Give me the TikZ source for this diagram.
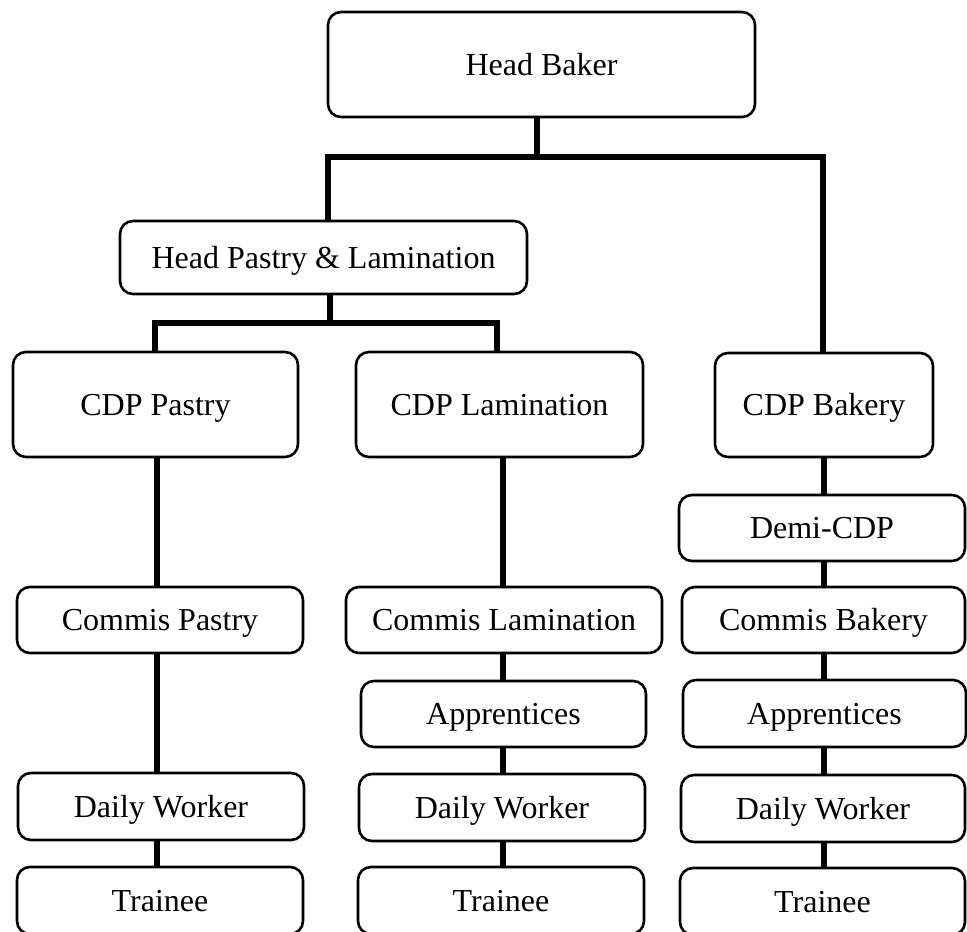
\documentclass[tikz,border=0pt]{standalone}
\usepackage{fontspec}
\setmainfont{Liberation Serif}
\begin{document}
\begin{tikzpicture}[x=1pt,y=-1pt,
  box/.style={draw=black,line width=2.6pt,rounded corners=13pt,fill=white,
    inner sep=0pt,align=center,text height=21pt,text depth=0pt,
    font=\fontsize{32}{36}\selectfont},
  conn/.style={draw=black,line width=5.5pt}]
\useasboundingbox (0,0) rectangle (967,932);
\fill[white] (0,0) rectangle (967,932);
% nodes
\node[box,minimum width=427pt,minimum height=105pt] (hb) at (541.5,64.5) {Head Baker};
\node[box,minimum width=407pt,minimum height=73pt] (hpl) at (323.5,257.5) {Head Pastry \& Lamination};
\node[box,minimum width=285pt,minimum height=105pt] (cdpp) at (155.5,404.5) {CDP Pastry};
\node[box,minimum width=287pt,minimum height=105pt] (cdpl) at (499.5,404.5) {CDP Lamination};
\node[box,minimum width=218pt,minimum height=104pt] (cdpb) at (824,405) {CDP Bakery};
\node[box,minimum width=286pt,minimum height=66pt] (demi) at (822,528) {Demi-CDP};
\node[box,minimum width=286pt,minimum height=66pt] (comp) at (160,620) {Commis Pastry};
\node[box,minimum width=316pt,minimum height=66pt] (coml) at (504,620) {Commis Lamination};
\node[box,minimum width=283pt,minimum height=66pt] (comb) at (823.5,620) {Commis Bakery};
\node[box,minimum width=285pt,minimum height=66pt] (appl) at (503.5,714) {Apprentices};
\node[box,minimum width=283pt,minimum height=67pt] (appb) at (824.5,713.5) {Apprentices};
\node[box,minimum width=286pt,minimum height=67pt] (dwp) at (161,806.5) {Daily Worker};
\node[box,minimum width=286pt,minimum height=67pt] (dwl) at (502,807.5) {Daily Worker};
\node[box,minimum width=284pt,minimum height=67pt] (dwb) at (823,808.5) {Daily Worker};
\node[box,minimum width=286pt,minimum height=67pt] (trp) at (160,900.5) {Trainee};
\node[box,minimum width=286pt,minimum height=67pt] (trl) at (501,900.5) {Trainee};
\node[box,minimum width=285pt,minimum height=67pt] (trb) at (822.5,901.5) {Trainee};
% junction coordinates
\coordinate (j1) at (537,157);
\coordinate (j1l) at (328,157);
\coordinate (j1r) at (823,157);
\coordinate (j2) at (330,323);
\coordinate (j2l) at (155,323);
\coordinate (j2r) at (497,323);
\coordinate (ca) at (157,0);
\coordinate (cb) at (503,0);
\coordinate (cc) at (824,0);
% connectors
\begin{scope}[on background layer/.style={}]
\draw[conn] (j1 |- hb.south) -- (j1);
\draw[conn] (j1l |- hpl.north) -- (j1l) -- (j1r) -- (j1r |- cdpb.north);
\draw[conn] (j2 |- hpl.south) -- (j2);
\draw[conn] (j2l |- cdpp.north) -- (j2l) -- (j2r) -- (j2r |- cdpl.north);
\draw[conn] (ca |- cdpp.south) -- (ca |- comp.north);
\draw[conn] (ca |- comp.south) -- (ca |- dwp.north);
\draw[conn] (ca |- dwp.south) -- (ca |- trp.north);
\draw[conn] (cb |- cdpl.south) -- (cb |- coml.north);
\draw[conn] (cb |- coml.south) -- (cb |- appl.north);
\draw[conn] (cb |- appl.south) -- (cb |- dwl.north);
\draw[conn] (cb |- dwl.south) -- (cb |- trl.north);
\draw[conn] (cc |- cdpb.south) -- (cc |- demi.north);
\draw[conn] (cc |- demi.south) -- (cc |- comb.north);
\draw[conn] (cc |- comb.south) -- (cc |- appb.north);
\draw[conn] (cc |- appb.south) -- (cc |- dwb.north);
\draw[conn] (cc |- dwb.south) -- (cc |- trb.north);
\end{scope}
\end{tikzpicture}
\end{document}
